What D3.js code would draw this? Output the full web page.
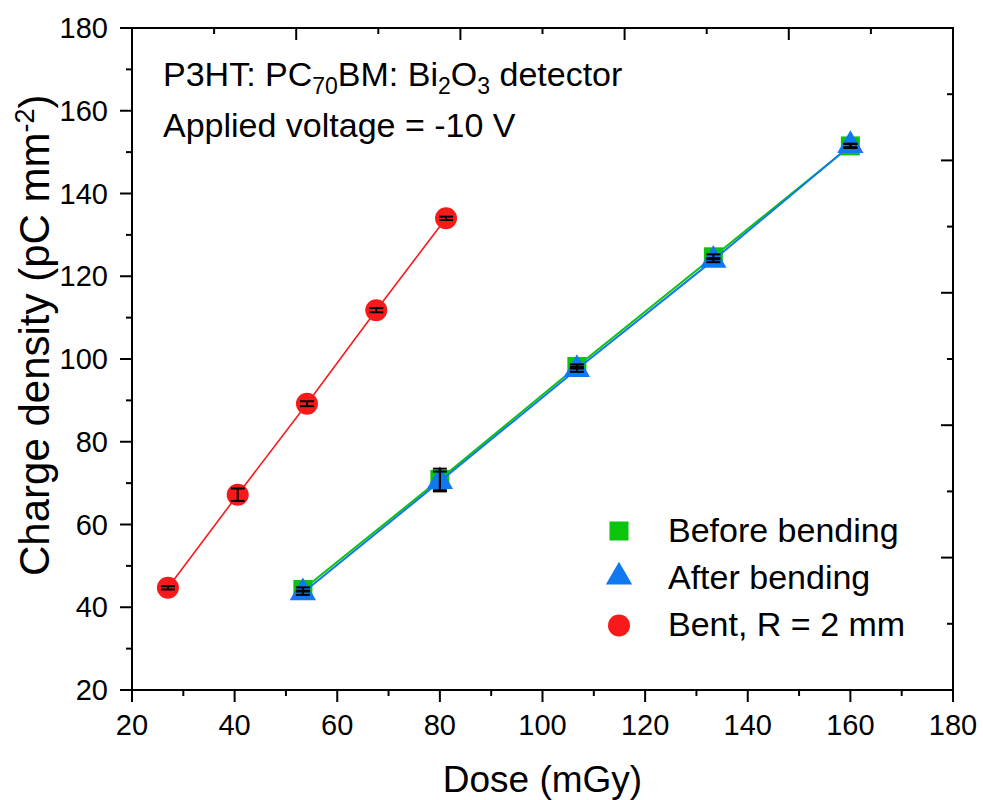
<!DOCTYPE html>
<html><head><meta charset="utf-8">
<script src="https://cdn.jsdelivr.net/npm/d3@7"></script>
<style>body{margin:0;background:#fff}svg{display:block}</style>
</head><body>
<svg id="c" width="983" height="800"></svg>
<script>
const doseBending = [53.3, 80, 106.7, 133.3, 160];
const beforeBending = [44.3, 70.9, 98.2, 124.7, 151.5];
const beforeErr = [0.5, 2.6, 0.5, 0.6, 0.5];
const afterBending = [43.5, 70.4, 97.5, 123.9, 151.6];
const afterErr = [0.5, 2.4, 0.6, 0.5, 0.4];
const doseBent = [27, 40.6, 54.1, 67.6, 81.2];
const bentR2 = [44.7, 67.2, 89.2, 111.8, 134.0];
const bentErr = [0.4, 1.5, 0.6, 0.5, 0.4];
const xTicks = [20, 40, 60, 80, 100, 120, 140, 160, 180];
const yTicks = [20, 40, 60, 80, 100, 120, 140, 160, 180];
const legendLabels = ["Before bending", "After bending", "Bent, R = 2 mm"];

const FONT = "'Liberation Sans', Arial, sans-serif";
const svg = d3.select("#c");
const L = 132, R = 953, T = 28, B = 690;
const x = d3.scaleLinear().domain([20, 180]).range([L, R]);
const y = d3.scaleLinear().domain([20, 180]).range([B, T]);
const xt = d3.scaleLinear().domain([0, 10]).range([L, R]);
const yr = d3.scaleLinear().domain([0, 10]).range([B, T]);

const green = "#0cc40c", blue = "#1078f0", red = "#f81a1a";

svg.append("rect").attr("x", L).attr("y", T).attr("width", R - L).attr("height", B - T)
  .attr("fill", "none").attr("stroke", "#000").attr("stroke-width", 2);

const minorX = d3.range(30, 180, 20), minorY = d3.range(30, 180, 20);
const tk = svg.append("g").attr("stroke", "#000").attr("stroke-width", 2);
xTicks.forEach(v => tk.append("line").attr("x1", x(v)).attr("x2", x(v)).attr("y1", B).attr("y2", B + 12));
minorX.forEach(v => tk.append("line").attr("x1", x(v)).attr("x2", x(v)).attr("y1", B).attr("y2", B + 6));
yTicks.forEach(v => tk.append("line").attr("y1", y(v)).attr("y2", y(v)).attr("x1", L).attr("x2", L - 12));
minorY.forEach(v => tk.append("line").attr("y1", y(v)).attr("y2", y(v)).attr("x1", L).attr("x2", L - 6));
d3.range(1, 10).forEach(k => {
  const len = k % 2 === 0 ? 12 : 6;
  tk.append("line").attr("x1", xt(k)).attr("x2", xt(k)).attr("y1", T).attr("y2", T + len);
  tk.append("line").attr("y1", yr(k)).attr("y2", yr(k)).attr("x1", R).attr("x2", R - len);
});

svg.append("g").selectAll("text").data(xTicks).join("text")
  .attr("x", d => x(d)).attr("y", B + 45).attr("text-anchor", "middle")
  .attr("font-family", FONT).attr("font-size", 29).text(d => d);
svg.append("g").selectAll("text").data(yTicks).join("text")
  .attr("x", L - 24).attr("y", d => y(d) + 10).attr("text-anchor", "end")
  .attr("font-family", FONT).attr("font-size", 29).text(d => d);

svg.append("text").attr("x", (L + R) / 2).attr("y", 792).attr("text-anchor", "middle")
  .attr("font-family", FONT).attr("font-size", 37).text("Dose (mGy)");
const yt = svg.append("text").attr("transform", `translate(49,576) rotate(-90)`)
  .attr("text-anchor", "start").attr("font-family", FONT).attr("font-size", 42);
yt.append("tspan").text("Charge density (pC mm");
yt.append("tspan").attr("font-size", 27).attr("dy", -15).text("-2");
yt.append("tspan").attr("dy", 15).text(")");

const a1 = svg.append("text").attr("x", 163).attr("y", 86).attr("font-family", FONT).attr("font-size", 34);
a1.append("tspan").text("P3HT: PC");
a1.append("tspan").attr("font-size", 23).attr("dy", 8).text("70");
a1.append("tspan").attr("dy", -8).text("BM: Bi");
a1.append("tspan").attr("font-size", 23).attr("dy", 8).text("2");
a1.append("tspan").attr("dy", -8).text("O");
a1.append("tspan").attr("font-size", 23).attr("dy", 8).text("3");
a1.append("tspan").attr("dy", -8).text(" detector");
svg.append("text").attr("x", 163).attr("y", 137).attr("font-family", FONT).attr("font-size", 34)
  .text("Applied voltage = -10 V");

const line = (xs, ys) => d3.line().x((d, i) => x(xs[i])).y(d => y(d))(ys);
const tri = d3.symbol().type(d3.symbolTriangle).size(300);

function errBars(xs, ys, es) {
  const g = svg.append("g").attr("stroke", "#000").attr("stroke-width", 2);
  ys.forEach((v, i) => {
    const cx = x(xs[i]);
    g.append("line").attr("x1", cx).attr("x2", cx).attr("y1", y(v - es[i])).attr("y2", y(v + es[i]));
    [v - es[i], v + es[i]].forEach(e => g.append("line").attr("x1", cx - 7).attr("x2", cx + 7).attr("y1", y(e)).attr("y2", y(e)));
  });
}

svg.append("path").attr("d", line(doseBending, beforeBending)).attr("fill", "none").attr("stroke", green).attr("stroke-width", 2);
svg.append("g").selectAll("rect").data(beforeBending).join("rect")
  .attr("x", (d, i) => x(doseBending[i]) - 9.5).attr("y", d => y(d) - 9.5).attr("width", 19).attr("height", 19).attr("fill", green);
svg.append("path").attr("d", line(doseBending, afterBending)).attr("fill", "none").attr("stroke", blue).attr("stroke-width", 2);
svg.append("g").selectAll("path").data(afterBending).join("path")
  .attr("d", tri).attr("transform", (d, i) => `translate(${x(doseBending[i])},${y(d)})`).attr("fill", blue);
errBars(doseBending, beforeBending, beforeErr);
errBars(doseBending, afterBending, afterErr);
svg.append("path").attr("d", line(doseBent, bentR2)).attr("fill", "none").attr("stroke", red).attr("stroke-width", 1.6);
svg.append("g").selectAll("circle").data(bentR2).join("circle")
  .attr("cx", (d, i) => x(doseBent[i])).attr("cy", d => y(d)).attr("r", 11).attr("fill", red);
errBars(doseBent, bentR2, bentErr);

const lg = svg.append("g");
lg.append("rect").attr("x", 609.5).attr("y", 521.5).attr("width", 19).attr("height", 19).attr("fill", green);
lg.append("path").attr("d", tri).attr("transform", "translate(619,577)").attr("fill", blue);
lg.append("circle").attr("cx", 619).attr("cy", 625.5).attr("r", 11).attr("fill", red);
lg.selectAll("text").data(legendLabels).join("text")
  .attr("x", 668).attr("y", (d, i) => 542 + i * 47).attr("font-family", FONT).attr("font-size", 34).text(d => d);
</script>
</body></html>
